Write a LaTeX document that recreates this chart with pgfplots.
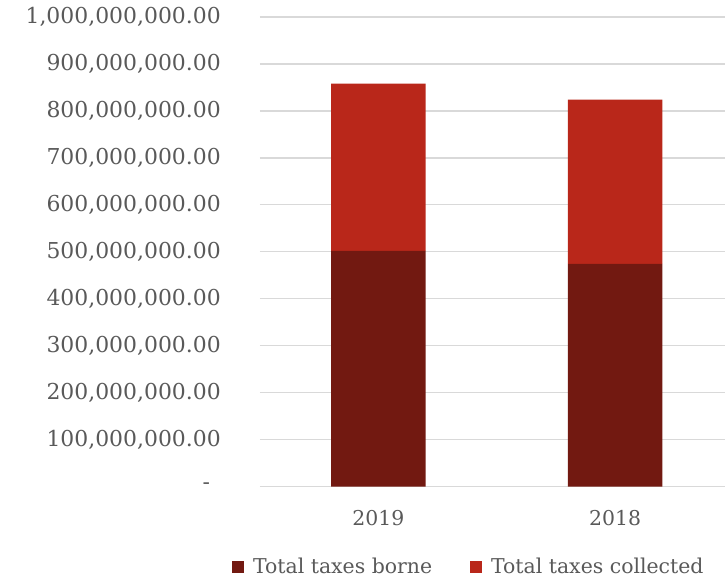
\documentclass[border=0pt]{standalone}
\usepackage{fontspec}
\setmainfont{DejaVu Serif}
\usepackage{pgfplots}
\pgfplotsset{compat=1.18}
\definecolor{borne}{RGB}{114,25,17}
\definecolor{coll}{RGB}{185,39,26}
\definecolor{gridc}{RGB}{217,217,217}
\definecolor{txt}{RGB}{89,89,89}
\begin{document}
\begin{tikzpicture}
\begin{axis}[
  scale only axis, width=465bp, height=469.5bp,
  ybar stacked, bar width=0.40,
  xmin=-0.5, xmax=1.464, ymin=0, ymax=1000000000,
  scaled y ticks=false,
  xtick={0,1}, xticklabels={2019,2018},
  ytick={0,100000000,200000000,300000000,400000000,500000000,600000000,700000000,800000000,900000000,1000000000},
  yticklabels={{\raisebox{-3bp}{-}\rule{10.7bp}{0pt}},{100,000,000.00},{200,000,000.00},{300,000,000.00},{400,000,000.00},{500,000,000.00},{600,000,000.00},{700,000,000.00},{800,000,000.00},{900,000,000.00},{1,000,000,000.00}},
  axis line style={draw=none},
  major tick length=0pt,
  ymajorgrids, grid style={gridc, line width=1.4bp},
  tick label style={text=txt, inner sep=0pt},
  yticklabel style={font=\fontsize{22}{26}\selectfont, anchor=east, xshift=-39bp},
  xticklabel style={font=\fontsize{20.5}{24}\selectfont, anchor=north, yshift=-24bp},
  legend style={at={(0.449,-0.171)}, anchor=center, draw=none, fill=none,
    font=\fontsize{20.5}{24}\selectfont, text=txt, inner sep=0pt,
    legend columns=2,
    /tikz/every even column/.append style={column sep=36bp}},
  legend cell align=left,
  legend image code/.code={\fill[#1] (0bp,-6bp) rectangle (12bp,6bp); \path (19bp,0bp);},
]
\addplot[fill=borne, draw=none] coordinates {(0,502000000) (1,474000000)};
\addlegendentry{Total taxes borne}
\addplot[fill=coll, draw=none] coordinates {(0,356000000) (1,350000000)};
\addlegendentry{Total taxes collected}
\end{axis}
\pgfresetboundingbox
\path[use as bounding box] (current axis.south west) ++(-260bp,-91.5bp) rectangle ++(725bp,578bp);
\end{tikzpicture}
\end{document}
